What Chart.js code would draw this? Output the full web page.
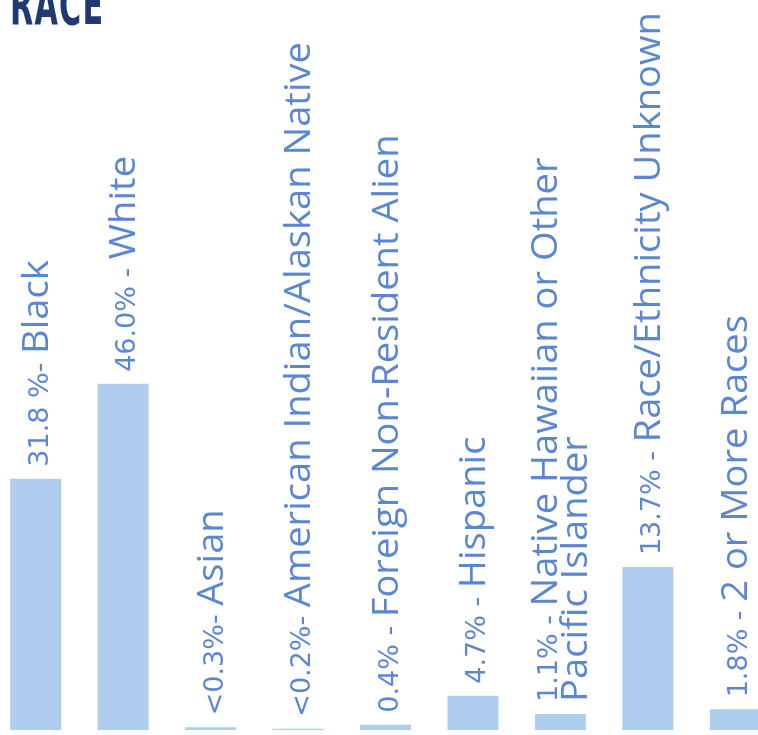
<!DOCTYPE html>
<html>
<head>
<meta charset="utf-8">
<script src="https://cdn.jsdelivr.net/npm/chart.js@4.4.1/dist/chart.umd.min.js"></script>
<style>
  html, body { margin: 0; padding: 0; background: #ffffff; overflow: hidden; width: 758px; height: 735px; }
  #wrap { position: absolute; left: -8px; top: 0; width: 787px; height: 735px; }
  #title { position: absolute; left: 10px; top: -23px; margin: 0; font: bold 56px "DejaVu Sans Condensed", "DejaVu Sans", sans-serif; line-height: 56px; color: #1f3a72; transform: scaleX(0.6); transform-origin: 0 0; white-space: nowrap; letter-spacing: 2px; }
</style>
</head>
<body>
<div id="wrap"><canvas id="c" width="787" height="735"></canvas></div>
<div id="title">RACE</div>
<script>
// Categories (second line for wrapped labels given as array)
const categories = [
  "Black",
  "White",
  "Asian",
  "American Indian/Alaskan Native",
  "Foreign Non-Resident Alien",
  "Hispanic",
  ["Native Hawaiian or Other", "Pacific Islander"],
  "Race/Ethnicity Unknown",
  "2 or More Races"
];
// Percentage text shown in front of each category name
const pctLabels = ["31.8 %- ", "46.0% - ", "<0.3%- ", "<0.2%- ", "0.4% - ", "4.7% - ", "1.1% - ", "13.7% - ", "1.8% - "];
// Bar heights as drawn in the picture (percent scale)
const barValues = [33.4, 46.0, 0.36, 0.17, 0.7, 4.56, 2.13, 21.65, 2.75];

const BAR_COLOR = "#aecdef";
const TEXT_COLOR = "#5b86d4";

const labelPlugin = {
  id: "rotatedLabels",
  afterDatasetsDraw(chart) {
    const ctx = chart.ctx;
    const meta = chart.getDatasetMeta(0);
    meta.data.forEach((bar, i) => {
      const cat = chart.data.labels[i];
      const lines = Array.isArray(cat) ? cat : [cat];
      const n = lines.length;
      const baseX = bar.x + 12 - (n - 1) * 15;
      const startY = bar.y - 12;
      ctx.save();
      ctx.fillStyle = TEXT_COLOR;
      ctx.textBaseline = "alphabetic";
      ctx.textAlign = "left";
      ctx.translate(baseX, startY);
      ctx.rotate(-Math.PI / 2);
      // first line: percentage + name
      ctx.font = "27px 'DejaVu Sans'";
      const p = pctLabels[i];
      ctx.fillText(p, 0, 0);
      const pw = ctx.measureText(p).width;
      ctx.font = "37px 'Open Sans'";
      ctx.save();
      ctx.translate(pw, 0);
      ctx.scale(1.03, 1);
      ctx.fillText(lines[0], 0, 0);
      ctx.restore();
      ctx.scale(1.03, 1);
      for (let k = 1; k < n; k++) {
        ctx.fillText(lines[k], 0, 30 * k);
      }
      ctx.restore();
    });
  }
};

new Chart(document.getElementById("c"), {
  type: "bar",
  data: {
    labels: categories,
    datasets: [{
      data: barValues,
      backgroundColor: BAR_COLOR,
      borderWidth: 0,
      barPercentage: 0.583,
      categoryPercentage: 1
    }]
  },
  options: {
    responsive: false,
    animation: false,
    layout: { padding: { top: 0, bottom: 5, left: 0, right: 0 } },
    scales: {
      x: { display: false },
      y: { display: false, min: 0, max: 97 }
    },
    plugins: { legend: { display: false }, tooltip: { enabled: false }, title: { display: false } }
  },
  plugins: [labelPlugin]
});
</script>
</body>
</html>
